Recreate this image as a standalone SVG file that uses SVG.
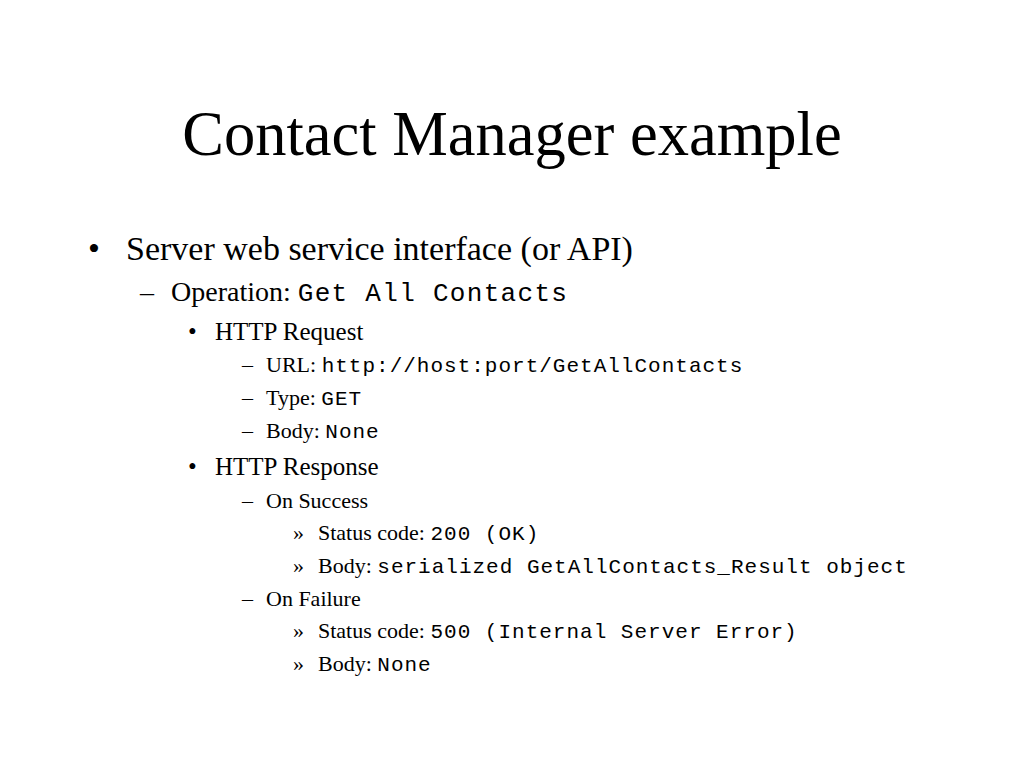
<svg xmlns="http://www.w3.org/2000/svg" width="1024" height="768" viewBox="0 0 1024 768">
<style>
.s{font-family:"Liberation Serif","Times New Roman",serif;fill:#000}
.m{font-family:"Liberation Mono","Courier New",monospace;fill:#000}
.t{font-size:62.5px}
.l1{font-size:34px}
.l2{font-size:28px}
.l3{font-size:25px}
.l4{font-size:22px}
.m2{font-size:26px;letter-spacing:1.3px}
.m4{font-size:21px;letter-spacing:1.0px}
</style>
<rect width="1024" height="768" fill="#fff"/>
<text class="s t" x="512" y="155" text-anchor="middle">Contact Manager example</text>
<g id="l1">
<text class="s l1" x="88" y="260">•</text>
<text class="s l1" x="126" y="260">Server web service interface (or API)</text>
</g>
<g id="l2">
<text class="s l2" x="140" y="301">–</text>
<text class="s l2" x="171" y="301">Operation: <tspan class="m m2">Get All Contacts</tspan></text>
</g>
<g id="req">
<text class="s l3" x="188" y="340">•</text>
<text class="s l3" x="215" y="340">HTTP Request</text>
<text class="s l4" x="242" y="372">–</text>
<text class="s l4" x="266" y="372">URL: <tspan class="m m4">http://host:port/GetAllContacts</tspan></text>
<text class="s l4" x="242" y="405">–</text>
<text class="s l4" x="266" y="405">Type: <tspan class="m m4">GET</tspan></text>
<text class="s l4" x="242" y="438">–</text>
<text class="s l4" x="266" y="438">Body: <tspan class="m m4">None</tspan></text>
</g>
<g id="resp">
<text class="s l3" x="188" y="475">•</text>
<text class="s l3" x="215" y="475">HTTP Response</text>
<text class="s l4" x="242" y="508">–</text>
<text class="s l4" x="266" y="508">On Success</text>
<text class="s l4" x="293" y="540">»</text>
<text class="s l4" x="318" y="540">Status code: <tspan class="m m4">200 (OK)</tspan></text>
<text class="s l4" x="293" y="573">»</text>
<text class="s l4" x="318" y="573">Body: <tspan class="m m4">serialized GetAllContacts_Result object</tspan></text>
<text class="s l4" x="242" y="606">–</text>
<text class="s l4" x="266" y="606">On Failure</text>
<text class="s l4" x="293" y="638">»</text>
<text class="s l4" x="318" y="638">Status code: <tspan class="m m4">500 (Internal Server Error)</tspan></text>
<text class="s l4" x="293" y="671">»</text>
<text class="s l4" x="318" y="671">Body: <tspan class="m m4">None</tspan></text>
</g>
</svg>
